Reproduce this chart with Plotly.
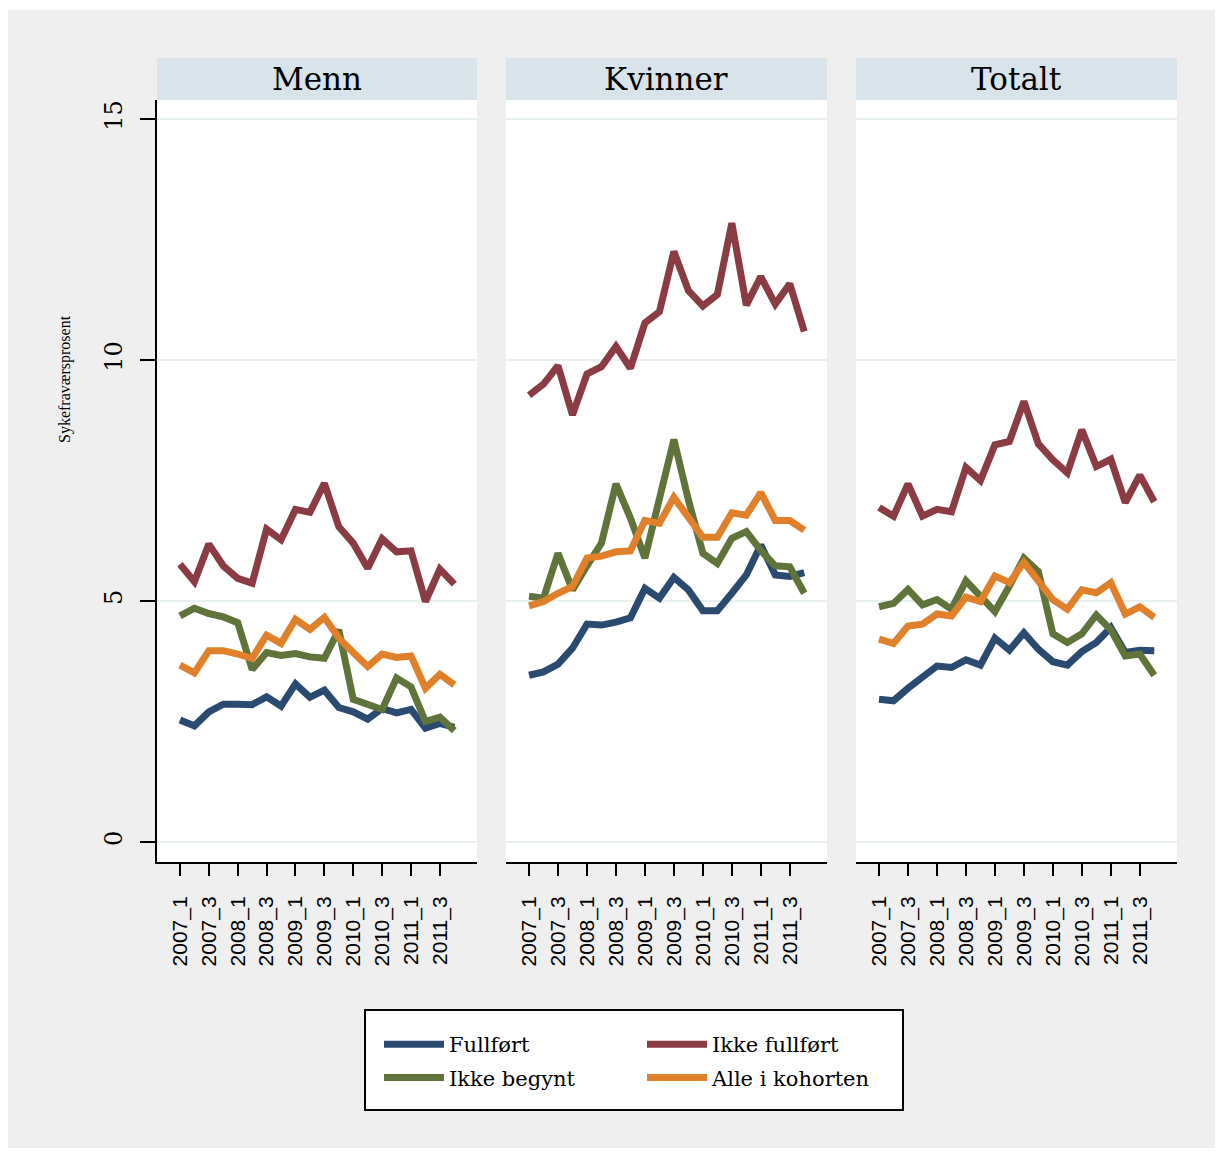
import plotly.graph_objects as go

# ---------------- data ----------------
quarters = ["2007_1", "2007_2", "2007_3", "2007_4", "2008_1", "2008_2", "2008_3", "2008_4",
            "2009_1", "2009_2", "2009_3", "2009_4", "2010_1", "2010_2", "2010_3", "2010_4",
            "2011_1", "2011_2", "2011_3", "2011_4"]
tick_labels = ["2007_1", "2007_3", "2008_1", "2008_3", "2009_1", "2009_3",
               "2010_1", "2010_3", "2011_1", "2011_3"]
panel_titles = ["Menn", "Kvinner", "Totalt"]
series_names = ["Fullført", "Ikke fullført", "Ikke begynt", "Alle i kohorten"]

menn_fullfort = [2.53, 2.41, 2.70, 2.86, 2.86, 2.85, 3.01, 2.82, 3.28, 3.00,
                 3.15, 2.79, 2.70, 2.55, 2.77, 2.68, 2.75, 2.36, 2.46, 2.38]
menn_ikke_fullfort = [5.76, 5.40, 6.18, 5.73, 5.47, 5.37, 6.49, 6.27, 6.90, 6.84,
                      7.44, 6.54, 6.20, 5.68, 6.29, 6.02, 6.04, 4.99, 5.66, 5.35]
menn_ikke_begynt = [4.69, 4.85, 4.74, 4.67, 4.55, 3.58, 3.93, 3.87, 3.91, 3.84,
                    3.81, 4.40, 2.96, 2.84, 2.75, 3.40, 3.22, 2.50, 2.59, 2.31]
menn_alle = [3.67, 3.51, 3.97, 3.97, 3.90, 3.81, 4.29, 4.12, 4.62, 4.41,
             4.66, 4.23, 3.93, 3.64, 3.90, 3.83, 3.86, 3.19, 3.48, 3.26]

kvinner_fullfort = [3.46, 3.53, 3.69, 4.02, 4.52, 4.50, 4.56, 4.65, 5.26, 5.06,
                    5.49, 5.23, 4.80, 4.80, 5.16, 5.54, 6.16, 5.54, 5.51, 5.59]
kvinner_ikke_fullfort = [9.27, 9.50, 9.88, 8.86, 9.71, 9.86, 10.28, 9.83, 10.77, 11.00,
                         12.25, 11.44, 11.12, 11.36, 12.84, 11.14, 11.73, 11.16, 11.58, 10.59]
kvinner_ikke_begynt = [5.10, 5.06, 5.99, 5.23, 5.73, 6.20, 7.43, 6.72, 5.89, 7.13,
                       8.35, 7.10, 5.99, 5.78, 6.30, 6.44, 6.05, 5.73, 5.71, 5.16]
kvinner_alle = [4.90, 4.99, 5.16, 5.30, 5.89, 5.93, 6.02, 6.04, 6.67, 6.61,
                7.15, 6.75, 6.32, 6.32, 6.83, 6.78, 7.25, 6.67, 6.67, 6.47]

totalt_fullfort = [2.96, 2.93, 3.19, 3.41, 3.65, 3.62, 3.78, 3.67, 4.23, 3.98,
                   4.34, 4.00, 3.74, 3.67, 3.95, 4.14, 4.45, 3.93, 3.98, 3.97]
totalt_ikke_fullfort = [6.94, 6.76, 7.43, 6.76, 6.90, 6.85, 7.77, 7.50, 8.24, 8.31,
                        9.14, 8.26, 7.93, 7.66, 8.55, 7.79, 7.94, 7.04, 7.61, 7.06]
totalt_ikke_begynt = [4.88, 4.95, 5.24, 4.92, 5.03, 4.83, 5.42, 5.10, 4.78, 5.31,
                      5.89, 5.61, 4.32, 4.14, 4.32, 4.71, 4.40, 3.86, 3.90, 3.46]
totalt_alle = [4.21, 4.12, 4.48, 4.52, 4.73, 4.69, 5.08, 4.99, 5.52, 5.38,
               5.80, 5.40, 5.03, 4.83, 5.23, 5.17, 5.38, 4.73, 4.88, 4.66]

y_tickvals = [0, 5, 10, 15]

# ---------------- styling ----------------
W, H = 1223, 1151
OFF = 8  # page body margin
colors = ["#2b4a70", "#8a3b43", "#60733a", "#e0802a"]
legend_of = ["legend", "legend2", "legend", "legend2"]
SERIF = "DejaVu Serif"
SANS = "Liberation Sans"
BG = "#efefef"
STRIP = "#d8e4ea"
GRID = "#e8eff1"

def px(x):
    return (x - OFF) / W

def py(y):
    return 1 - (y - OFF) / H

panels_px = [(157, 477), (506, 827), (856, 1177)]
plot_top, plot_bot = 100, 862
strip_top = 58

panel_data = [
    [menn_fullfort, menn_ikke_fullfort, menn_ikke_begynt, menn_alle],
    [kvinner_fullfort, kvinner_ikke_fullfort, kvinner_ikke_begynt, kvinner_alle],
    [totalt_fullfort, totalt_ikke_fullfort, totalt_ikke_begynt, totalt_alle],
]

fig = go.Figure()
for p, series in enumerate(panel_data):
    sfx = "" if p == 0 else str(p + 1)
    for s, vals in enumerate(series):
        fig.add_trace(go.Scatter(
            x=quarters, y=vals, mode="lines", name=series_names[s],
            line=dict(color=colors[s], width=7),
            xaxis="x" + sfx, yaxis="y" + sfx,
            showlegend=(p == 0), legend=legend_of[s],
            legendgroup=series_names[s],
        ))

legend_common = dict(xanchor="left", yanchor="top", bgcolor="rgba(0,0,0,0)", borderwidth=0,
                     font=dict(family=SERIF, size=21, color="black"),
                     tracegroupgap=3, itemwidth=60, traceorder="grouped")
layout = dict(
    width=W, height=H, autosize=False,
    margin=dict(l=0, r=0, t=0, b=0),
    paper_bgcolor="white", plot_bgcolor="rgba(0,0,0,0)",
    showlegend=True,
    legend=dict(x=px(379), y=py(1024), **legend_common),
    legend2=dict(x=px(642), y=py(1024), **legend_common),
)

shapes = [
    dict(type="rect", xref="paper", yref="paper", x0=px(7), x1=px(1215), y0=py(1148), y1=py(10),
         fillcolor=BG, line=dict(width=0), layer="below"),
    dict(type="rect", xref="paper", yref="paper", x0=px(365), x1=px(903), y0=py(1110), y1=py(1010),
         fillcolor="white", line=dict(color="black", width=2), layer="below"),
]
annotations = []
for p, (x0, x1) in enumerate(panels_px):
    sfx = "" if p == 0 else str(p + 1)
    shapes.append(dict(type="rect", xref="paper", yref="paper", x0=px(x0), x1=px(x1),
                       y0=py(plot_bot), y1=py(plot_top), fillcolor="white",
                       line=dict(width=0), layer="below"))
    shapes.append(dict(type="rect", xref="paper", yref="paper", x0=px(x0), x1=px(x1),
                       y0=py(plot_top), y1=py(strip_top), fillcolor=STRIP,
                       line=dict(width=0), layer="below"))
    annotations.append(dict(text=panel_titles[p], xref="paper", yref="paper",
                            x=px((x0 + x1) / 2), y=py(79), showarrow=False,
                            xanchor="center", yanchor="middle",
                            font=dict(family=SERIF, size=31, color="black")))
    layout["xaxis" + sfx] = dict(
        domain=[px(x0), px(x1)], anchor="y" + sfx, type="category",
        categoryorder="array", categoryarray=quarters,
        range=[-1.59, 20.57], tickmode="array", tickvals=tick_labels, ticktext=tick_labels,
        tickangle=-90, tickfont=dict(family=SANS, size=21, color="black"),
        ticks="outside", ticklen=12, tickwidth=2, tickcolor="black", ticklabelstandoff=12,
        showline=True, linecolor="black", linewidth=2, showgrid=False, zeroline=False,
    )
    ya = dict(
        domain=[py(plot_bot), py(plot_top)], anchor="x" + sfx,
        range=[-0.415, 15.394], tickmode="array", tickvals=y_tickvals,
        showgrid=True, gridcolor=GRID, gridwidth=2, zeroline=False,
    )
    if p == 0:
        ya.update(showline=True, linecolor="black", linewidth=2, ticks="outside",
                  ticklen=15, tickwidth=2, tickcolor="black", tickangle=-90,
                  ticklabelstandoff=8,
                  tickfont=dict(family=SERIF, size=24, color="black"))
    else:
        ya.update(showline=False, ticks="", showticklabels=False, matches="y")
    layout["yaxis" + sfx] = ya

annotations.append(dict(text="Sykefraværsprosent", xref="paper", yref="paper",
                        x=px(65), y=py(379), showarrow=False, textangle=-90,
                        xanchor="center", yanchor="middle",
                        font=dict(family="Liberation Serif", size=16, color="black")))

layout["shapes"] = shapes
layout["annotations"] = annotations
fig.update_layout(**layout)

fig.write_html("out.html")
